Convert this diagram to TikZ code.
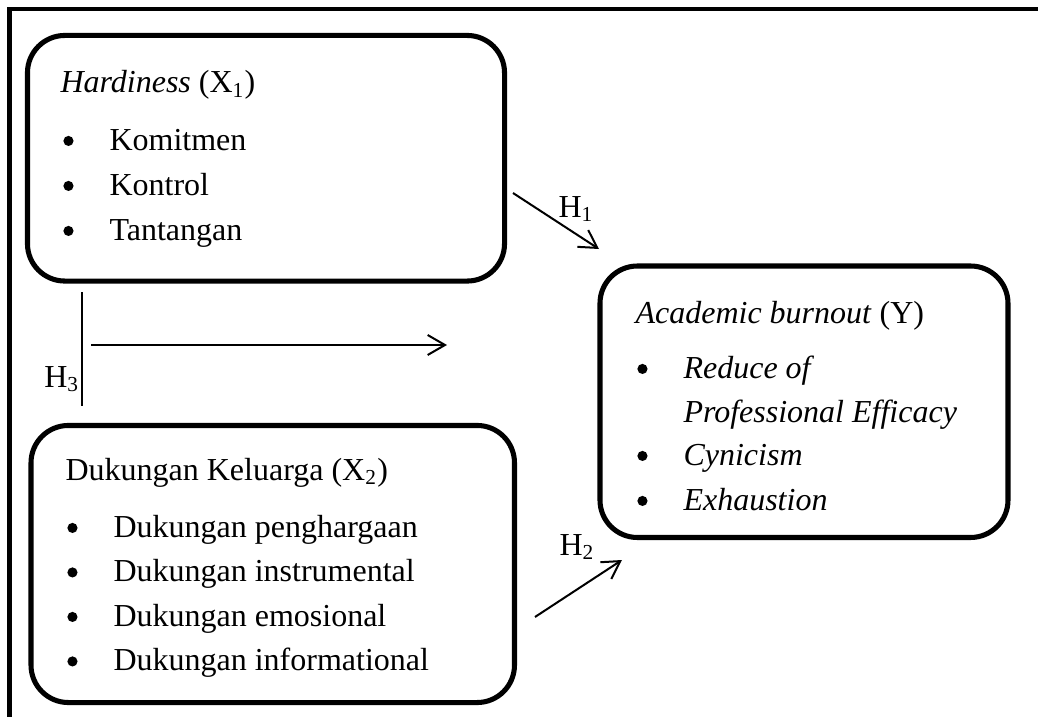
\documentclass[tikz,border=0pt]{standalone}
\usepackage{fontspec}
\setmainfont{Liberation Serif}
\usetikzlibrary{arrows.meta}

\tikzset{
  box/.style={draw,line width=1.9pt,rounded corners=14pt,inner sep=0pt},
  txt/.style={anchor=base west,inner sep=0pt,font=\fontsize{12}{14}\selectfont},
  link/.style={line width=0.75pt,-{Straight Barb[length=6.5pt,width=7.5pt]}},
}
\newcommand{\blt}{\llap{\tikz[baseline={(0,-3.4pt)}]\fill (0,0) circle (1.9pt);\hspace{13.5pt}}}

\begin{document}
\begin{tikzpicture}[x=0.375pt,y=-0.375pt]
\useasboundingbox (0,0) rectangle (1038,717);
%frame
\draw[line width=1.6pt] (9.5,717) -- (9.5,9) -- (1040,9);

%the three boxes
\node[box,minimum width=178.9pt,minimum height=92.1pt] (hardy) at (266,158.25) {};
\node[box,minimum width=181.3pt,minimum height=103.9pt] (kel) at (272.75,564) {};
\node[box,minimum width=153pt,minimum height=101.8pt] (burn) at (804,401.75) {};

%box texts
\node[txt] (hardyt) at (60,93) {\textit{Hardiness} (X\textsubscript{1})};
\foreach \t [count=\i] in {Komitmen,Kontrol,Tantangan}
  \node[txt] (hardy\i) at (109,{150+45*(\i-1)}) {\blt\t};

\node[txt] (kelt) at (65,480) {Dukungan Keluarga (X\textsubscript{2})};
\foreach \t [count=\i] in {Dukungan penghargaan,Dukungan instrumental,Dukungan emosional,Dukungan informational}
  \node[txt] (kel\i) at (113,{537+44.5*(\i-1)}) {\blt\t};

\node[txt] (burnt) at (635,323) {\textit{Academic burnout} (Y)};
\node[txt] (burn1) at (683,378) {\blt\textit{Reduce of}};
\node[txt] (burn2) at (683,422) {\textit{Professional Efficacy}};
\node[txt] (burn3) at (683,465) {\blt\textit{Cynicism}};
\node[txt] (burn4) at (683,510) {\blt\textit{Exhaustion}};

%hypotheses
\coordinate (h1a) at (513,193);
\coordinate (h1b) at (599,249);
\draw[link] (h1a) -- (h1b);
\node[txt] (h1) at (558,217) {H\textsubscript{1}};

\coordinate (h2a) at (535,617);
\coordinate (h2b) at (622,560);
\draw[link] (h2a) -- (h2b);
\node[txt] (h2) at (559,555) {H\textsubscript{2}};

\coordinate (h3a) at (82,292);
\coordinate (h3b) at (82,406);
\draw[line width=0.8pt] (h3a) -- (h3b);
\node[txt,anchor=base east] (h3) at (80,387) {H\textsubscript{3}};
\coordinate (h3c) at (91,345);
\coordinate (h3d) at (447,345);
\draw[link] (h3c) -- (h3d);
\end{tikzpicture}
\end{document}
